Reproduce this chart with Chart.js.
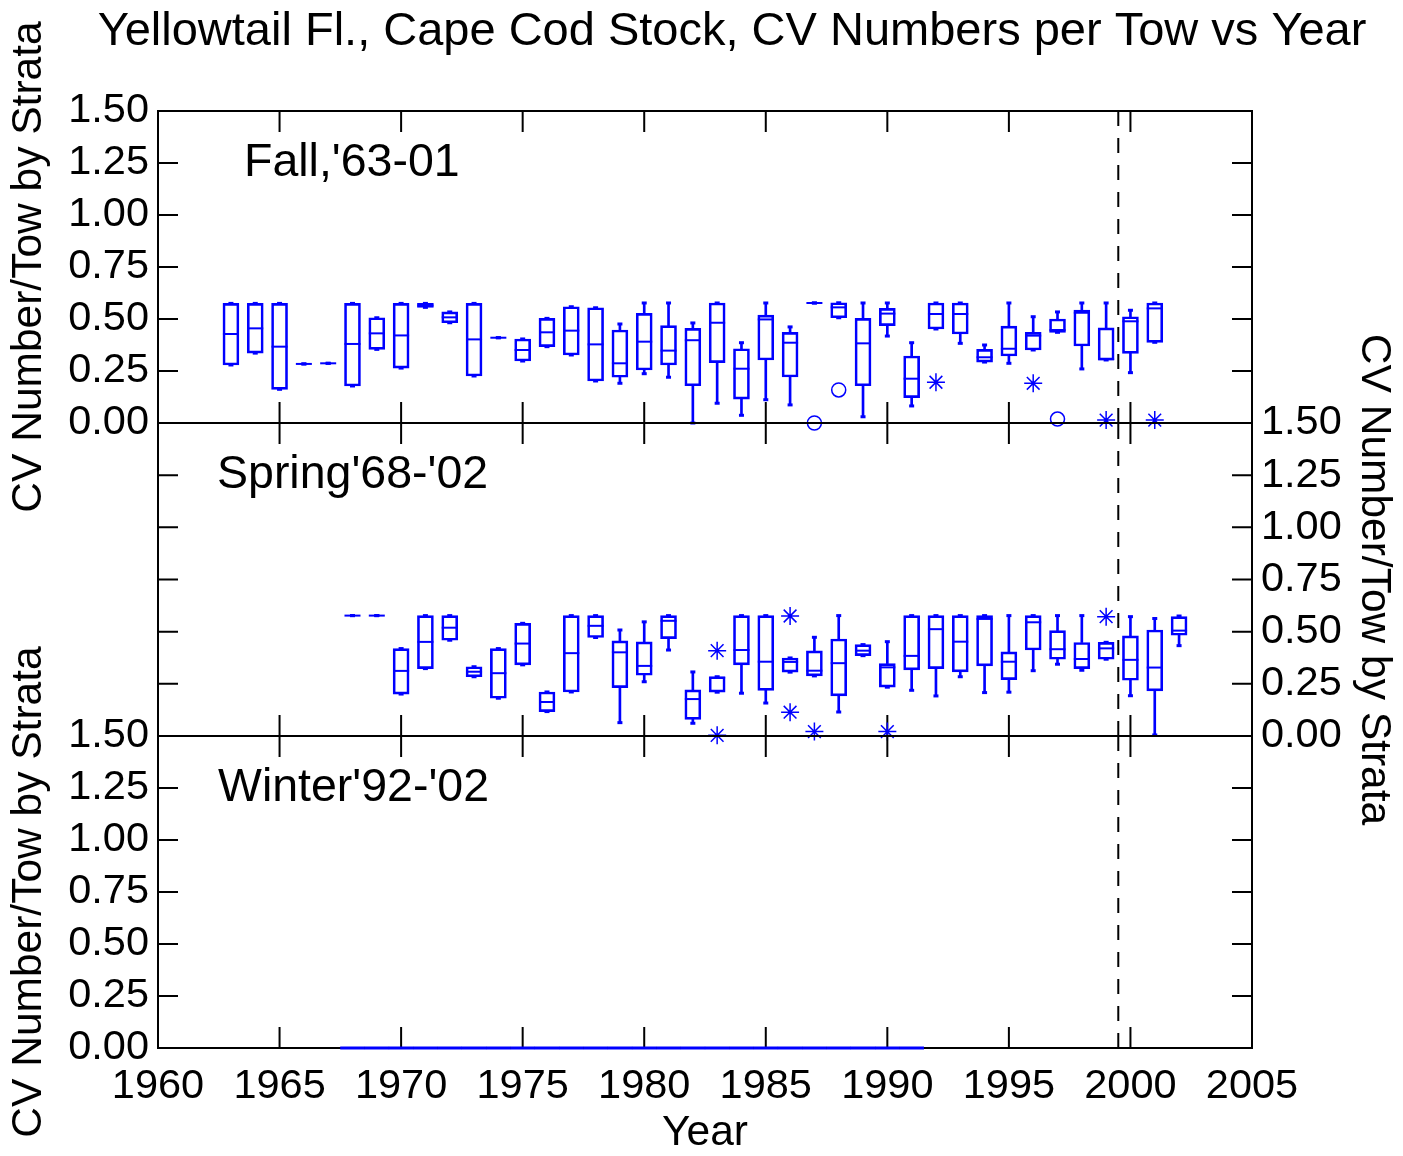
<!DOCTYPE html>
<html>
<head>
<meta charset="utf-8">
<script src="https://cdn.jsdelivr.net/npm/chart.js@4.4.0/dist/chart.umd.min.js"></script>
<style>
  body { margin: 0; background: #fff; }
  #wrap { position: relative; width: 1403px; height: 1156px; }
  canvas { position: absolute; left: 0; top: 0; }
</style>
</head>
<body>
<div id="wrap">
  <canvas id="fall" width="1403" height="1156"></canvas>
  <canvas id="spring" width="1403" height="1156"></canvas>
  <canvas id="winter" width="1403" height="1156"></canvas>
</div>
<script>
// ---- data ----
const title = "Yellowtail Fl., Cape Cod Stock, CV Numbers per Tow vs Year"
const yTitle = 'CV Number/Tow by Strata'
const xTitle = 'Year'

const xTicks = [1960, 1965, 1970, 1975, 1980, 1985, 1990, 1995, 2000, 2005]
const xTickLabels = ['1960', '1965', '1970', '1975', '1980', '1985', '1990', '1995', '2000', '2005']
const yTicks = [0, 0.25, 0.5, 0.75, 1, 1.25, 1.5]
const yTickLabels = ['0.00', '0.25', '0.50', '0.75', '1.00', '1.25', '1.50']

const dashYear = 1999.5

// Fall '63-01 : whisker low, q1, median, q3, whisker high
const fallYears = [1963, 1964, 1965, 1966, 1967, 1968, 1969, 1970, 1971, 1972, 1973, 1974, 1975, 1976, 1977, 1978, 1979, 1980, 1981, 1982, 1983, 1984, 1985, 1986, 1987, 1988, 1989, 1990, 1991, 1992, 1993, 1994, 1995, 1996, 1997, 1998, 1999, 2000, 2001]
const fallLo  = [0.279, 0.336, 0.162, 0.284, 0.287, 0.178, 0.354, 0.264, 0.556, 0.482, 0.226, 0.410, 0.298, 0.367, 0.327, 0.202, 0.191, 0.237, 0.220, 0.000, 0.095, 0.037, 0.112, 0.087, 0.577, 0.506, 0.030, 0.418, 0.082, 0.452, 0.383, 0.293, 0.287, 0.351, 0.436, 0.260, 0.303, 0.242, 0.388]
const fallQ1  = [0.279, 0.336, 0.162, 0.284, 0.287, 0.178, 0.354, 0.264, 0.556, 0.482, 0.226, 0.410, 0.298, 0.367, 0.327, 0.202, 0.220, 0.255, 0.279, 0.179, 0.290, 0.115, 0.303, 0.221, 0.577, 0.506, 0.179, 0.468, 0.122, 0.452, 0.428, 0.293, 0.322, 0.351, 0.436, 0.370, 0.303, 0.335, 0.388]
const fallMed = [0.428, 0.455, 0.367, 0.284, 0.287, 0.380, 0.431, 0.421, 0.565, 0.508, 0.402, 0.410, 0.351, 0.436, 0.444, 0.378, 0.287, 0.391, 0.348, 0.398, 0.482, 0.261, 0.498, 0.386, 0.577, 0.556, 0.383, 0.526, 0.213, 0.524, 0.524, 0.316, 0.357, 0.420, 0.447, 0.530, 0.306, 0.489, 0.551]
const fallQ3  = [0.575, 0.575, 0.575, 0.284, 0.287, 0.575, 0.506, 0.575, 0.575, 0.534, 0.575, 0.410, 0.404, 0.503, 0.559, 0.554, 0.447, 0.527, 0.468, 0.455, 0.577, 0.357, 0.519, 0.436, 0.577, 0.578, 0.503, 0.551, 0.322, 0.577, 0.577, 0.354, 0.466, 0.436, 0.500, 0.543, 0.457, 0.511, 0.577]
const fallHi  = [0.575, 0.575, 0.575, 0.284, 0.287, 0.575, 0.506, 0.575, 0.575, 0.534, 0.575, 0.410, 0.404, 0.503, 0.559, 0.554, 0.476, 0.577, 0.577, 0.481, 0.577, 0.386, 0.577, 0.462, 0.577, 0.578, 0.577, 0.577, 0.386, 0.577, 0.577, 0.375, 0.577, 0.511, 0.534, 0.577, 0.577, 0.542, 0.577]
const fallCircleYears = [1987, 1988, 1997]
const fallCircleVals  = [0.000, 0.159, 0.019]
const fallStarYears = [1992, 1996, 1999, 2001]
const fallStarVals  = [0.196, 0.191, 0.014, 0.014]

// Spring '68-'02
const springYears = [1968, 1969, 1970, 1971, 1972, 1973, 1974, 1975, 1976, 1977, 1978, 1979, 1980, 1981, 1982, 1983, 1984, 1985, 1986, 1987, 1988, 1989, 1990, 1991, 1992, 1993, 1994, 1995, 1996, 1997, 1998, 1999, 2000, 2001, 2002]
const springLo  = [0.577, 0.577, 0.201, 0.323, 0.459, 0.284, 0.181, 0.341, 0.117, 0.211, 0.472, 0.064, 0.260, 0.412, 0.061, 0.210, 0.205, 0.158, 0.306, 0.288, 0.115, 0.385, 0.234, 0.219, 0.192, 0.284, 0.208, 0.210, 0.313, 0.344, 0.315, 0.368, 0.193, 0.005, 0.433]
const springQ1  = [0.577, 0.577, 0.201, 0.323, 0.459, 0.284, 0.181, 0.341, 0.117, 0.211, 0.472, 0.232, 0.291, 0.467, 0.080, 0.210, 0.341, 0.219, 0.306, 0.288, 0.192, 0.385, 0.234, 0.317, 0.323, 0.307, 0.336, 0.270, 0.412, 0.368, 0.323, 0.368, 0.267, 0.216, 0.483]
const springMed = [0.577, 0.577, 0.312, 0.451, 0.519, 0.308, 0.301, 0.443, 0.163, 0.397, 0.528, 0.401, 0.336, 0.552, 0.177, 0.280, 0.412, 0.356, 0.355, 0.313, 0.349, 0.409, 0.329, 0.384, 0.512, 0.452, 0.561, 0.356, 0.545, 0.416, 0.369, 0.420, 0.365, 0.328, 0.505]
const springQ3  = [0.577, 0.577, 0.419, 0.577, 0.577, 0.332, 0.419, 0.540, 0.211, 0.577, 0.577, 0.456, 0.451, 0.577, 0.221, 0.284, 0.577, 0.577, 0.374, 0.408, 0.465, 0.438, 0.347, 0.577, 0.577, 0.577, 0.577, 0.403, 0.577, 0.505, 0.448, 0.449, 0.480, 0.508, 0.572]
const springHi  = [0.577, 0.577, 0.419, 0.577, 0.577, 0.332, 0.419, 0.540, 0.211, 0.577, 0.577, 0.508, 0.547, 0.577, 0.307, 0.284, 0.577, 0.577, 0.374, 0.473, 0.577, 0.438, 0.452, 0.577, 0.577, 0.577, 0.577, 0.577, 0.577, 0.577, 0.577, 0.449, 0.572, 0.563, 0.575]
const springStarYears = [1983, 1983, 1986, 1986, 1987, 1990, 1999]
const springStarVals  = [0.409, 0.003, 0.575, 0.114, 0.021, 0.021, 0.572]

// Winter '92-'02 (everything sits on zero)
const winterYears = [1968, 1969, 1970, 1971, 1972, 1973, 1974, 1975, 1976, 1977, 1978, 1979, 1980, 1981, 1982, 1983, 1984, 1985, 1986, 1987, 1988, 1989, 1990, 1991]
const winterMed   = [0, 0, 0, 0, 0, 0, 0, 0, 0, 0, 0, 0, 0, 0, 0, 0, 0, 0, 0, 0, 0, 0, 0, 0]

// ---- helpers ----
const BLUE = '#0000ff'
const FONT = '"Liberation Sans", Arial, Helvetica, sans-serif'

const pts = (xs, ys) => xs.map((x, i) => ({x: x, y: ys[i]}))
const spans = (xs, a, b) => xs.map((x, i) => ({x: x, y: [a[i], b[i]]}))

function boxSets(years, lo, q1, med, q3, hi) {
  return [
    // box
    {type: 'bar', data: spans(years, q1, q3), backgroundColor: 'rgba(0,0,0,0)', borderColor: BLUE,
     borderWidth: 2, borderSkipped: false, barThickness: 16, grouped: false, clip: false},
    // whiskers
    {type: 'bar', data: spans(years, lo, q1), backgroundColor: BLUE, borderWidth: 0, barThickness: 2, grouped: false, clip: false},
    {type: 'bar', data: spans(years, q3, hi), backgroundColor: BLUE, borderWidth: 0, barThickness: 2, grouped: false, clip: false},
    // median
    {type: 'scatter', data: pts(years, med), pointStyle: 'line', pointRadius: 8, pointBorderWidth: 2,
     pointBorderColor: BLUE, clip: false},
    // whisker caps
    {type: 'scatter', data: pts(years, lo).concat(pts(years, hi)), pointStyle: 'line', pointRadius: 2.5,
     pointBorderWidth: 3, pointBorderColor: BLUE, clip: false}
  ]
}

function outliers(years, vals, style) {
  return {type: 'scatter', data: pts(years, vals), pointStyle: style, pointRadius: style === 'star' ? 9 : 7,
          pointBorderWidth: 1.5, pointBorderColor: BLUE, pointBackgroundColor: 'rgba(0,0,0,0)', clip: false}
}

function dashLine() {
  return {type: 'line', data: [{x: dashYear, y: 0}, {x: dashYear, y: 1.5}], borderColor: '#000',
          borderWidth: 2, borderDash: [15, 12], pointRadius: 0, clip: false}
}

// frame, inward ticks and panel text
const framePlugin = {
  id: 'frame',
  beforeDatasetsDraw(chart, args, opts) {
    const {ctx, chartArea: a} = chart
    const x = chart.scales.x
    const y = chart.scales.y
    ctx.save()
    ctx.strokeStyle = '#000'
    ctx.lineWidth = 2
    ctx.strokeRect(a.left, a.top, a.right - a.left, a.bottom - a.top)
    ctx.beginPath()
    xTicks.forEach(v => {
      const px = x.getPixelForValue(v)
      ctx.moveTo(px, a.bottom); ctx.lineTo(px, a.bottom - 21)
      ctx.moveTo(px, a.top); ctx.lineTo(px, a.top + 21)
    })
    yTicks.forEach(v => {
      const py = y.getPixelForValue(v)
      ctx.moveTo(a.left, py); ctx.lineTo(a.left + 20, py)
      ctx.moveTo(a.right, py); ctx.lineTo(a.right - 20, py)
    })
    ctx.stroke()

    ctx.fillStyle = '#000'
    ctx.textBaseline = 'middle'
    ctx.textAlign = 'left'
    ctx.font = '46.5px ' + FONT
    ctx.fillText(opts.label, a.left + opts.dx, a.top + 52)

    if (opts.title) {
      ctx.textAlign = 'center'
      ctx.textBaseline = 'alphabetic'
      ctx.font = '47px ' + FONT
      ctx.fillText(opts.title, 732, 45)
    }
    ctx.restore()
  }
}

function yScale(position, width, showTitle) {
  return {
    type: 'linear', position: position, min: 0, max: 1.5,
    afterBuildTicks: s => { s.ticks = yTicks.map(v => ({value: v})) },
    afterFit: s => { s.width = width },
    grid: {display: false, drawTicks: false},
    border: {display: false},
    ticks: {
      color: '#000', padding: 9, autoSkip: false, font: {family: FONT, size: 41.5},
      callback: v => yTickLabels[yTicks.indexOf(v)]
    },
    title: {display: showTitle, text: yTitle, color: '#000', font: {family: FONT, size: 42.5},
            padding: {top: 4, bottom: 0}}
  }
}

function xScale(show) {
  return {
    type: 'linear', display: show, position: 'bottom', min: 1960, max: 2005, offset: false,
    afterBuildTicks: s => { s.ticks = xTicks.map(v => ({value: v})) },
    afterFit: s => { s.height = show ? 108 : 0 },
    grid: {display: false, drawTicks: false, offset: false},
    border: {display: false},
    ticks: {
      color: '#000', padding: 14, autoSkip: false, maxRotation: 0,
      font: {family: FONT, size: 41.5},
      callback: v => xTickLabels[xTicks.indexOf(v)]
    },
    title: {display: show, text: xTitle, color: '#000', font: {family: FONT, size: 42.5},
            padding: {top: 0, bottom: -3}}
  }
}

function makeChart(id, datasets, padding, yPos, yWidth, showX, frameOpts) {
  return new Chart(document.getElementById(id).getContext('2d'), {
    type: 'bar',
    data: {datasets: datasets},
    options: {
      responsive: false,
      devicePixelRatio: 1,
      animation: false,
      events: [],
      layout: {padding: padding},
      plugins: {legend: {display: false}, tooltip: {enabled: false}, frame: frameOpts},
      scales: {x: xScale(showX), y: yScale(yPos, yWidth, true)}
    },
    plugins: [framePlugin]
  })
}

// Fall panel
makeChart('fall',
  boxSets(fallYears, fallLo, fallQ1, fallMed, fallQ3, fallHi).concat([
    outliers(fallCircleYears, fallCircleVals, 'circle'),
    outliers(fallStarYears, fallStarVals, 'star'),
    dashLine()
  ]),
  {top: 111, bottom: 733, left: 0, right: 151}, 'left', 158, false,
  {label: "Fall,'63-01", dx: 86, title: title})

// Spring panel
makeChart('spring',
  boxSets(springYears, springLo, springQ1, springMed, springQ3, springHi).concat([
    outliers(springStarYears, springStarVals, 'star'),
    dashLine()
  ]),
  {top: 423, bottom: 420, left: 158, right: 0}, 'right', 151, false,
  {label: "Spring'68-'02", dx: 59})

// Winter panel
makeChart('winter',
  [
    {type: 'scatter', data: pts(winterYears, winterMed), pointStyle: 'line', pointRadius: 12.3,
     pointBorderWidth: 3, pointBorderColor: BLUE, clip: false},
    dashLine()
  ],
  {top: 736, bottom: 0, left: 0, right: 151}, 'left', 158, true,
  {label: "Winter'92-'02", dx: 60})
</script>
</body>
</html>
